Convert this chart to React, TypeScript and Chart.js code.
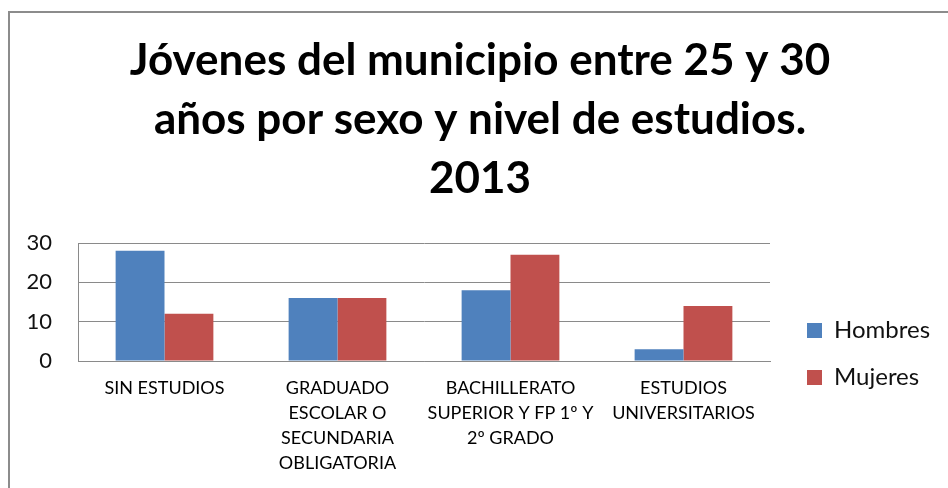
import React, { useEffect, useRef } from "react";
import { Chart, registerables } from "chart.js";

Chart.register(...registerables);

const categories: string[][] = [
  ["SIN ESTUDIOS"],
  ["GRADUADO", "ESCOLAR O", "SECUNDARIA", "OBLIGATORIA"],
  ["BACHILLERATO", "SUPERIOR Y FP 1º Y", "2º GRADO"],
  ["ESTUDIOS", "UNIVERSITARIOS"],
];
const hombres: number[] = [28, 16, 18, 3];
const mujeres: number[] = [12, 16, 27, 14];
const titleLines: string[] = [
  "Jóvenes del municipio entre 25 y 30",
  "años por sexo y nivel de estudios.",
  "2013",
];
const yTicks = { min: 0, max: 30, step: 10 };

const FONT = "Lato";
const GRID = "#8a8a8a";

const framePlugin = {
  id: "frame",
  beforeDraw(chart: any) {
    const ctx = chart.ctx;
    ctx.save();
    ctx.fillStyle = "#ffffff";
    ctx.fillRect(0, 0, chart.width, chart.height);
    ctx.strokeStyle = "#8c8c8c";
    ctx.lineWidth = 2;
    ctx.strokeRect(9, 12, chart.width + 50, chart.height + 50);
    ctx.restore();
  },
};

export default function App() {
  const ref = useRef<HTMLCanvasElement | null>(null);
  useEffect(() => {
    document.body.style.margin = "0";
    if (!ref.current) return;
    const chart = new Chart(ref.current, {
      type: "bar",
      data: {
        labels: categories,
        datasets: [
          { label: "Hombres", data: hombres, backgroundColor: "#4F81BD", borderWidth: 0 },
          { label: "Mujeres", data: mujeres, backgroundColor: "#C0504D", borderWidth: 0 },
        ],
      },
      options: {
        responsive: false,
        animation: false,
        layout: { padding: { left: 24, right: 12, top: 0, bottom: 0 } },
        datasets: { bar: { categoryPercentage: 0.565, barPercentage: 1 } },
        scales: {
          x: {
            grid: { display: false, drawTicks: false },
            border: { display: true, color: GRID, width: 1 },
            ticks: {
              color: "#000",
              padding: 15,
              maxRotation: 0,
              autoSkip: false,
              font: { family: FONT, size: 18, lineHeight: "25px" },
            },
            afterFit: (s: any) => {
              s.height = 127;
            },
          },
          y: {
            min: yTicks.min,
            max: yTicks.max,
            grid: { color: GRID, drawTicks: false, lineWidth: 1 },
            border: { display: true, color: GRID, width: 1 },
            ticks: {
              stepSize: yTicks.step,
              color: "#111",
              padding: 26,
              font: { family: FONT, size: 22 },
            },
            afterFit: (s: any) => {
              s.width = 54;
            },
          },
          y2: {
            type: "linear",
            position: "right",
            display: true,
            grid: { display: false, drawTicks: false },
            border: { display: false },
            ticks: { display: false },
            afterFit: (s: any) => {
              s.width = 14;
            },
          },
        },
        plugins: {
          title: {
            display: true,
            text: titleLines,
            color: "#000",
            font: { family: FONT, size: 44, weight: "bold", lineHeight: "59px" },
            padding: { top: 31, bottom: 35 },
          },
          legend: {
            position: "right",
            align: "center",
            title: {
              display: true,
              text: "",
              padding: { top: 208, bottom: 0 },
              font: { family: FONT, size: 10, lineHeight: "12px" },
            },
            labels: {
              boxWidth: 15,
              boxHeight: 15,
              padding: 23,
              color: "#111",
              font: { family: FONT, size: 24 },
            },
          },
          tooltip: { enabled: false },
        },
      } as any,
      plugins: [framePlugin],
    });
    return () => chart.destroy();
  }, []);
  return (
    <div style={{ width: 948, height: 488 }}>
      <canvas ref={ref} width={948} height={488} style={{ display: "block" }} />
    </div>
  );
}
